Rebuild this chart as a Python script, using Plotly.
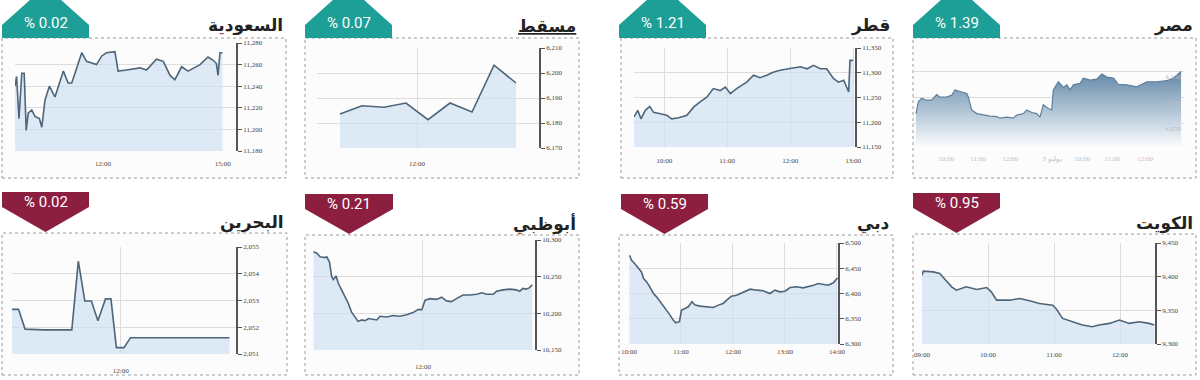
import plotly.graph_objects as go

W, H = 1200, 380

# ---------------- data ----------------
saudi_hours = [9.80, 9.84, 9.90, 9.97, 10.03, 10.08, 10.13, 10.22, 10.30, 10.41, 10.47, 10.55, 10.66, 10.80,
               11.01, 11.13, 11.22, 11.36, 11.47, 11.59, 11.84, 11.97, 12.09, 12.30, 12.38, 12.59, 12.93,
               13.09, 13.34, 13.51, 13.68, 13.80, 13.97, 14.13, 14.43, 14.63, 14.76, 14.84, 14.88, 14.93, 14.99]
saudi_values = [11240, 11249, 11210, 11252, 11252, 11199, 11215, 11218, 11212, 11210, 11202, 11227, 11240, 11230,
                11254, 11243, 11243, 11258, 11271, 11263, 11260, 11268, 11271, 11272, 11254, 11255, 11257,
                11255, 11265, 11263, 11250, 11246, 11258, 11254, 11260, 11267, 11264, 11261, 11250, 11271, 11271]

muscat_hours = [11.125, 11.375, 11.625, 11.875, 12.125, 12.375, 12.625, 12.875, 13.125]
muscat_values = [6183.6, 6186.9, 6186.3, 6188.0, 6181.3, 6188.0, 6184.4, 6203.1, 6196.0]

qatar_hours = [9.52, 9.58, 9.63, 9.70, 9.77, 9.83, 9.94, 10.04, 10.12, 10.23, 10.36, 10.47, 10.57, 10.68,
               10.78, 10.89, 10.97, 11.05, 11.15, 11.31, 11.42, 11.52, 11.63, 11.73, 11.84, 12.00, 12.16,
               12.27, 12.37, 12.48, 12.58, 12.69, 12.77, 12.85, 12.93, 12.95, 13.00]
qatar_values = [11211, 11224, 11207, 11224, 11232, 11220, 11217, 11214, 11207, 11209, 11214, 11231, 11241, 11251,
                11268, 11264, 11271, 11258, 11268, 11281, 11295, 11290, 11295, 11301, 11305, 11308, 11312,
                11308, 11315, 11308, 11308, 11288, 11281, 11285, 11261, 11325, 11325]

egypt_pos = [0, 0.9, 2.1, 4.0, 5.9, 7.8, 9.1, 11.6, 13.5, 14.7, 16.6, 19.1, 19.7, 21.0, 22.9, 25.4, 27.9,
             30.5, 31.7, 34.2, 36.7, 38.0, 40.5, 41.8, 43.7, 45.5, 46.8, 48.0, 49.9, 51.2, 51.8, 53.7,
             55.6, 56.9, 58.1, 59.4, 61.9, 63.1, 65.7, 68.2, 70.1, 72.0, 74.5, 76.3, 79.5, 83.3, 87.1,
             90.8, 94.6, 97.1, 99.0, 100]
egypt_values = [4069, 4092, 4099, 4095, 4095, 4106, 4101, 4101, 4105, 4115, 4112, 4108, 4102, 4076, 4069, 4066,
                4064, 4063, 4060, 4062, 4060, 4066, 4069, 4076, 4071, 4069, 4062, 4086, 4079, 4076, 4115,
                4131, 4120, 4125, 4115, 4125, 4128, 4138, 4134, 4136, 4146, 4140, 4138, 4126, 4125, 4121,
                4131, 4131, 4133, 4138, 4147, 4151]
egypt_tick_pos = [11.3, 23.4, 35.5, 51.3, 62.6, 74.0, 86.4, 97.7]
egypt_tick_text = ["10:00", "11:00", "12:00", "3 يوليو", "10:00", "11:00", "12:00", "13:00"]

bahrain_hours = [11.00, 11.06, 11.12, 11.29, 11.55, 11.61, 11.67, 11.73, 11.79, 11.86, 11.91, 11.96, 12.03,
                 12.09, 13.00]
bahrain_values = [2052.67, 2052.67, 2051.93, 2051.90, 2051.90, 2054.47, 2052.98, 2052.98, 2052.24, 2053.06,
                  2053.06, 2051.24, 2051.24, 2051.61, 2051.61]

abudhabi_hours = [10.01, 10.07, 10.13, 10.22, 10.25, 10.30, 10.34, 10.37, 10.42, 10.46, 10.52, 10.58, 10.64,
                  10.70, 10.76, 10.82, 10.89, 10.95, 11.01, 11.07, 11.16, 11.22, 11.34, 11.46, 11.58, 11.70,
                  11.82, 11.91, 11.98, 12.04, 12.13, 12.25, 12.34, 12.43, 12.52, 12.61, 12.73, 12.85, 12.98,
                  13.07, 13.16, 13.28, 13.34, 13.46, 13.58, 13.70, 13.76, 13.82, 13.88, 13.94, 13.99]
abudhabi_values = [10284, 10282, 10277, 10276, 10277, 10270, 10250, 10246, 10251, 10241, 10232, 10223, 10214,
                   10202, 10195, 10189, 10191, 10190, 10193, 10192, 10191, 10196, 10195, 10197, 10196, 10198,
                   10201, 10205, 10205, 10218, 10220, 10219, 10222, 10217, 10216, 10220, 10225, 10225, 10226,
                   10228, 10226, 10226, 10230, 10232, 10233, 10232, 10230, 10234, 10233, 10235, 10239]

dubai_hours = [10.01, 10.05, 10.12, 10.18, 10.24, 10.28, 10.34, 10.40, 10.47, 10.53, 10.60, 10.66, 10.72, 10.79,
               10.85, 10.90, 10.97, 11.01, 11.08, 11.14, 11.21, 11.27, 11.37, 11.49, 11.62, 11.72, 11.81,
               11.88, 11.97, 12.07, 12.20, 12.33, 12.46, 12.58, 12.71, 12.81, 12.90, 13.00, 13.10, 13.22,
               13.35, 13.45, 13.55, 13.64, 13.74, 13.83, 13.93, 14.01]
dubai_values = [6475.7, 6465.8, 6457.9, 6451.3, 6442.8, 6429.6, 6423.0, 6413.2, 6400.0, 6393.4, 6383.6, 6377.0,
                6367.1, 6357.2, 6347.4, 6342.1, 6344.1, 6367.1, 6370.4, 6373.7, 6383.6, 6377.0, 6375.0,
                6373.7, 6372.4, 6377.0, 6380.3, 6386.8, 6394.7, 6396.7, 6403.3, 6408.6, 6406.6, 6405.3,
                6400.0, 6406.6, 6403.3, 6404.6, 6411.8, 6413.2, 6411.2, 6413.2, 6416.4, 6419.7, 6417.8,
                6416.4, 6421.1, 6430.9]

kuwait_hours = [9.00, 9.02, 9.17, 9.27, 9.35, 9.45, 9.52, 9.67, 9.83, 9.98, 10.05, 10.13, 10.33, 10.48, 10.63,
                10.78, 10.98, 11.03, 11.13, 11.28, 11.43, 11.58, 11.68, 11.84, 11.99, 12.14, 12.29, 12.44,
                12.52]
kuwait_values = [9402.1, 9408.1, 9407.1, 9404.6, 9395.7, 9384.9, 9379.9, 9384.9, 9380.9, 9383.9, 9377.5,
                 9365.1, 9365.1, 9367.6, 9364.2, 9360.2, 9357.7, 9352.8, 9338.0, 9333.1, 9328.1, 9325.7,
                 9328.1, 9330.6, 9335.5, 9330.6, 9333.1, 9330.6, 9328.1]

titles = ["السعودية", "<u>مسقط</u>", "قطر", "مصر", "البحرين", "أبوظبي", "دبي", "الكويت"]
changes = ["% 0.02", "% 0.07", "% 1.21", "% 1.39", "% 0.02", "% 0.21", "% 0.59", "% 0.95"]
directions = ["up", "up", "up", "up", "down", "down", "down", "down"]

# ---------------- layout (pixel geometry) ----------------
panels = [
    dict(x=saudi_hours, y=saudi_values, plot=(15, 236, 43, 151), xr=(9.80, 15.33), yr=(11180, 11280), dt=20,
         tv=[12, 15], tt=["12:00", "15:00"], vgrid=False, box=(2, 286, 38, 178), badge=(2, 89), so=7),
    dict(x=muscat_hours, y=muscat_values, plot=(317, 539, 48, 148), xr=(10.864, 13.386), yr=(6170, 6210), dt=10,
         tv=[12], tt=["12:00"], vgrid=True, box=(305, 579, 38, 178), badge=(305, 392), so=10),
    dict(x=qatar_hours, y=qatar_values, plot=(634, 855, 48, 147), xr=(9.52, 13.03), yr=(11150, 11350), dt=50,
         tv=[10, 11, 12, 13], tt=["10:00", "11:00", "12:00", "13:00"], vgrid=True, box=(621, 893, 38, 178),
         badge=(619, 706), so=8),
    dict(x=egypt_pos, y=egypt_values, plot=(913, 1184, 69.4, 149), xr=(-1.13, 101.1), yr=(4000, 4155), dt=50,
         tv=egypt_tick_pos, tt=egypt_tick_text, vgrid=False, box=(913, 1196, 38, 178), badge=(913, 1000), so=4,
         egypt=True),
    dict(x=bahrain_hours, y=bahrain_values, plot=(12, 236, 247, 354), xr=(11.0, 13.06), yr=(2051, 2055), dt=1,
         tv=[12], tt=["12:00"], vgrid=True, box=(2, 287, 233, 375), badge=(2, 89), so=11),
    dict(x=abudhabi_hours, y=abudhabi_values, plot=(313, 535, 240, 350), xr=(10.0, 14.04), yr=(10150, 10300),
         dt=50, tv=[12], tt=["12:00"], vgrid=True, box=(305, 579, 235, 375), badge=(305, 393), so=11),
    dict(x=dubai_hours, y=dubai_values, plot=(629, 838, 243, 344), xr=(10.0, 14.02), yr=(6300, 6500), dt=50,
         tv=[10, 11, 12, 13, 14], tt=["10:00", "11:00", "12:00", "13:00", "14:00"], vgrid=True,
         box=(619, 893, 235, 375), badge=(621, 708), so=2),
    dict(x=kuwait_hours, y=kuwait_values, plot=(922, 1155, 243, 344), xr=(9.0, 12.53), yr=(9300, 9450), dt=50,
         tv=[9, 10, 11, 12], tt=["09:00", "10:00", "11:00", "12:00"], vgrid=True, box=(913, 1196, 234, 375),
         badge=(913, 1000), so=5),
]


def fx(px):
    return px / W


def fy(py):
    return 1 - py / H


TEAL = "#1d9e96"
MAROON = "#8c1f40"
LINE = "#4e6579"
FILL = "rgba(204,223,241,0.65)"
GRID = "#dddddd"
TICKFONT = dict(family="Liberation Serif", size=7, color="#444444")

fig = go.Figure()
layout = dict(width=W, height=H, margin=dict(l=0, r=0, t=0, b=0, pad=0, autoexpand=False),
              paper_bgcolor="white", plot_bgcolor="rgba(0,0,0,0)", showlegend=False)
shapes, annotations = [], []

for i, p in enumerate(panels):
    n = i + 1
    xa = "x" if n == 1 else f"x{n}"
    ya = "y" if n == 1 else f"y{n}"
    egypt = p.get("egypt", False)
    if egypt:
        fig.add_trace(go.Scatter(
            x=p["x"], y=p["y"], xaxis=xa, yaxis=ya, mode="lines", line=dict(color="#5d7f9b", width=1.2),
            fill="tozeroy",
            fillgradient=dict(type="vertical", start=4000, stop=4150,
                              colorscale=[[0, "#ffffff"], [0.35, "#c8d6e3"], [1, "#6388a8"]]),
            hoverinfo="skip"))
    else:
        fig.add_trace(go.Scatter(
            x=p["x"], y=p["y"], xaxis=xa, yaxis=ya, mode="lines", line=dict(color=LINE, width=1.6),
            fill="tozeroy", fillcolor=FILL, hoverinfo="skip"))

    x0, x1, yt, yb = p["plot"]
    xkey = "xaxis" if n == 1 else f"xaxis{n}"
    ykey = "yaxis" if n == 1 else f"yaxis{n}"
    layout[xkey] = dict(
        domain=[fx(x0), fx(x1)], range=list(p["xr"]), anchor=ya, tickmode="array", tickvals=p["tv"],
        ticktext=p["tt"], showgrid=p["vgrid"], gridcolor=GRID, gridwidth=1, zeroline=False, showline=False,
        ticks="", ticklabelstandoff=p["so"], automargin=False,
        tickfont=dict(family="Liberation Serif", size=7, color="#c0c0c0" if egypt else "#444444"),
        fixedrange=True)
    ydict = dict(
        domain=[fy(yb), fy(yt)], range=list(p["yr"]), anchor=xa, side="right", dtick=p["dt"],
        tick0=p["yr"][0], tickformat=",d", showgrid=True, gridcolor=GRID, gridwidth=1, zeroline=False,
        automargin=False, fixedrange=True)
    if egypt:
        ydict.update(showline=False, ticks="", ticklabelposition="inside", ticklabelshift=5,
                     tickfont=dict(family="Liberation Serif", size=7, color="#c0c0c0"))
    else:
        ydict.update(showline=True, linecolor="#555555", linewidth=1.5, ticks="outside", ticklen=4,
                     tickcolor="#555555", tickwidth=1, tickfont=TICKFONT)
    layout[ykey] = ydict

    # dotted frame
    bx0, bx1, by0, by1 = p["box"]
    shapes.append(dict(type="rect", xref="paper", yref="paper", x0=fx(bx0), x1=fx(bx1), y0=fy(by1), y1=fy(by0),
                       line=dict(color="#9a9a9a", width=1, dash="dot"), fillcolor="#fcfcfd", layer="below"))

    # badge
    a0, a1 = p["badge"]
    mid = (a0 + a1) / 2
    if directions[i] == "up":
        pts = [(a0, by0), (a0, by0 - 13), (mid, by0 - 52), (a1, by0 - 13), (a1, by0)]
        color = TEAL
        ty = by0 - 15
        tty = by0 - 12
    else:
        pts = [(a0, by0 - 41), (a1, by0 - 41), (a1, by0 - 26), (mid, by0 - 1), (a0, by0 - 26)]
        color = MAROON
        ty = by0 - 31
        tty = by0 - 11
    path = "M " + " L ".join(f"{fx(a)},{fy(b)}" for a, b in pts) + " Z"
    shapes.append(dict(type="path", xref="paper", yref="paper", path=path, fillcolor=color,
                       line=dict(width=0), layer="above"))
    annotations.append(dict(x=fx(mid), y=fy(ty), xref="paper", yref="paper", text=changes[i],
                            showarrow=False, xanchor="center", yanchor="middle",
                            font=dict(family="Roboto", size=15, color="white")))
    # title
    annotations.append(dict(x=fx(bx1 - 1), y=fy(tty), xref="paper", yref="paper", text=f"<b>{titles[i]}</b>",
                            showarrow=False, xanchor="right", yanchor="middle",
                            font=dict(family="DejaVu Sans", size=17, color="#222222")))

layout["shapes"] = shapes
layout["annotations"] = annotations
fig.update_layout(**layout)
fig.write_html("out.html", config={"displayModeBar": False},
               post_script="document.body.style.margin='0px';document.body.style.overflow='hidden';")
